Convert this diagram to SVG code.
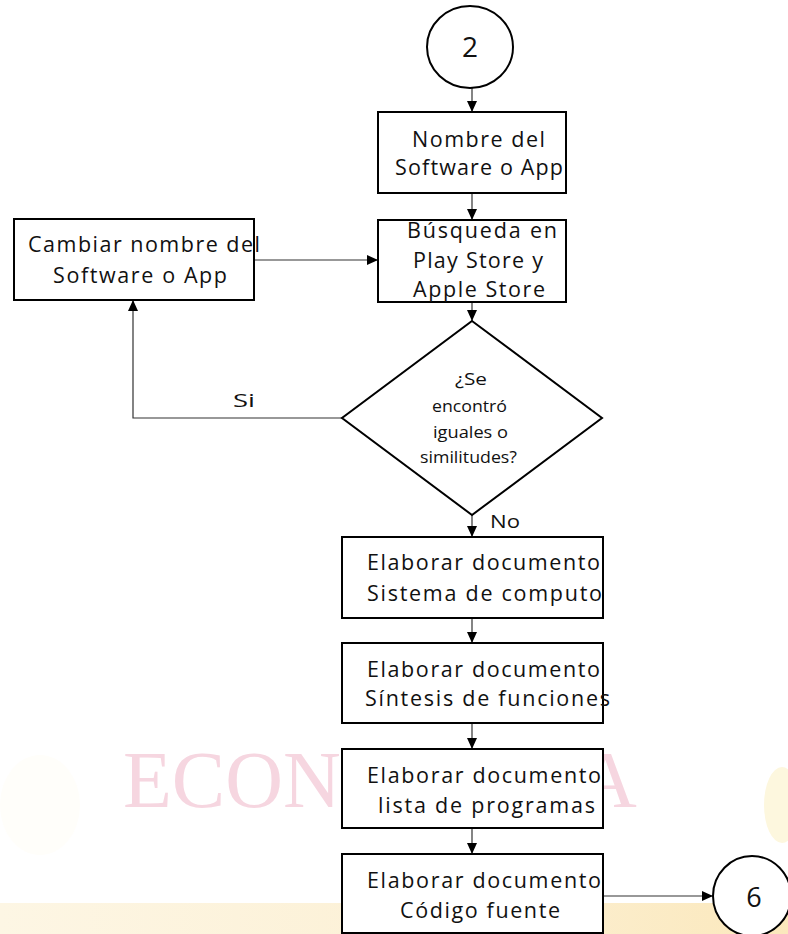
<svg xmlns="http://www.w3.org/2000/svg" width="788" height="934" viewBox="0 0 788 934">
<style>
.box{fill:#fff;stroke:#000;stroke-width:2}
.t{font-family:"Open Sans","Liberation Sans",sans-serif;font-size:21.5px;fill:#111}
.d{font-family:"Open Sans","Liberation Sans",sans-serif;font-size:16.5px;fill:#111}
.c{fill:none;stroke:#333;stroke-width:1.2}
.wm{font-family:"Liberation Serif",serif;font-size:80px;fill:#f6d6e0}
</style>
<defs>
<marker id="ah" markerUnits="userSpaceOnUse" markerWidth="12" markerHeight="12" viewBox="0 0 12 12" refX="11" refY="6" orient="auto">
<path d="M0,1 L11,6 L0,11 Z" fill="#000"/>
</marker>
<linearGradient id="band" x1="0" y1="0" x2="1" y2="0">
<stop offset="0" stop-color="#fdf6e4"/>
<stop offset="0.6" stop-color="#fcf0d4"/>
<stop offset="1" stop-color="#fbe8bc"/>
</linearGradient>
</defs>
<rect width="788" height="934" fill="#fff"/>
<g id="background">
<rect x="0" y="903" width="788" height="31" fill="url(#band)"/>
<ellipse cx="782" cy="805" rx="18" ry="38" fill="#fdf7de"/>
<ellipse cx="40" cy="805" rx="40" ry="50" fill="#fffefa"/>
<text class="wm" x="123" y="807">ECON</text>
<text class="wm" x="579" y="807">A</text>
</g>
<g id="connectors">
<line class="c" x1="472" y1="88" x2="472" y2="112" marker-end="url(#ah)"/>
<line class="c" x1="472" y1="193" x2="472" y2="220" marker-end="url(#ah)"/>
<line class="c" x1="472" y1="302" x2="472" y2="321" marker-end="url(#ah)"/>
<line class="c" x1="254" y1="260" x2="378" y2="260" marker-end="url(#ah)"/>
<polyline class="c" points="342,418 133,418 133,300" marker-end="url(#ah)"/>
<line class="c" x1="472" y1="515" x2="472" y2="537" marker-end="url(#ah)"/>
<line class="c" x1="472" y1="618" x2="472" y2="643" marker-end="url(#ah)"/>
<line class="c" x1="472" y1="723" x2="472" y2="749" marker-end="url(#ah)"/>
<line class="c" x1="472" y1="828" x2="472" y2="854" marker-end="url(#ah)"/>
<line class="c" x1="603" y1="896" x2="713" y2="896" marker-end="url(#ah)"/>
<text class="d" x="233" y="407" style="font-size:18px" textLength="22" lengthAdjust="spacingAndGlyphs">Si</text>
<text class="d" x="490" y="528" style="font-size:19px" textLength="30" lengthAdjust="spacingAndGlyphs">No</text>
</g>
<g id="start2">
<ellipse cx="470" cy="47" rx="43" ry="41" fill="#fff" stroke="#000" stroke-width="2"/>
<text class="t" x="470" y="57" text-anchor="middle" style="font-size:28px">2</text>
</g>
<g id="nombre">
<rect class="box" x="378" y="112" width="188" height="81"/>
<text class="t" x="412" y="147" textLength="133" lengthAdjust="spacing">Nombre del</text>
<text class="t" x="395" y="175" textLength="168" lengthAdjust="spacing">Software o App</text>
</g>
<g id="busqueda">
<rect class="box" x="378" y="220" width="188" height="82"/>
<text class="t" x="407" y="238" textLength="150" lengthAdjust="spacing">Búsqueda en</text>
<text class="t" x="413" y="268" textLength="130" lengthAdjust="spacing">Play Store y</text>
<text class="t" x="413" y="297" textLength="132" lengthAdjust="spacing">Apple Store</text>
</g>
<g id="cambiar">
<rect class="box" x="14" y="219" width="240" height="81"/>
<text class="t" x="28" y="252" textLength="232" lengthAdjust="spacing">Cambiar nombre del</text>
<text class="t" x="53" y="283" textLength="174" lengthAdjust="spacing">Software o App</text>
</g>
<g id="decision">
<polygon points="472,321 602,418 472,515 342,418" fill="#fff" stroke="#000" stroke-width="2"/>
<text class="d" x="455" y="385" textLength="32" lengthAdjust="spacingAndGlyphs">¿Se</text>
<text class="d" x="432" y="412" textLength="75" lengthAdjust="spacingAndGlyphs">encontró</text>
<text class="d" x="433" y="438" textLength="75" lengthAdjust="spacingAndGlyphs">iguales o</text>
<text class="d" x="420" y="463" textLength="97" lengthAdjust="spacingAndGlyphs">similitudes?</text>
</g>
<g id="sistema">
<rect class="box" x="342" y="537" width="261" height="81"/>
<text class="t" x="367" y="570" textLength="233" lengthAdjust="spacing">Elaborar documento</text>
<text class="t" x="367" y="601" textLength="235" lengthAdjust="spacing">Sistema de computo</text>
</g>
<g id="sintesis">
<rect class="box" x="342" y="643" width="261" height="80"/>
<text class="t" x="367" y="677" textLength="233" lengthAdjust="spacing">Elaborar documento</text>
<text class="t" x="365" y="706" textLength="245" lengthAdjust="spacing">Síntesis de funciones</text>
</g>
<g id="lista">
<rect class="box" x="342" y="749" width="261" height="79"/>
<text class="t" x="367" y="783" textLength="234" lengthAdjust="spacing">Elaborar documento</text>
<text class="t" x="378" y="813" textLength="217" lengthAdjust="spacing">lista de programas</text>
</g>
<g id="codigo">
<rect class="box" x="342" y="854" width="261" height="79"/>
<text class="t" x="367" y="888" textLength="234" lengthAdjust="spacing">Elaborar documento</text>
<text class="t" x="400" y="918" textLength="160" lengthAdjust="spacing">Código fuente</text>
</g>
<g id="end6">
<ellipse cx="752" cy="896" rx="39" ry="40" fill="#fff" stroke="#000" stroke-width="2"/>
<text class="t" x="754" y="907" text-anchor="middle" style="font-size:27px">6</text>
</g>
</svg>
